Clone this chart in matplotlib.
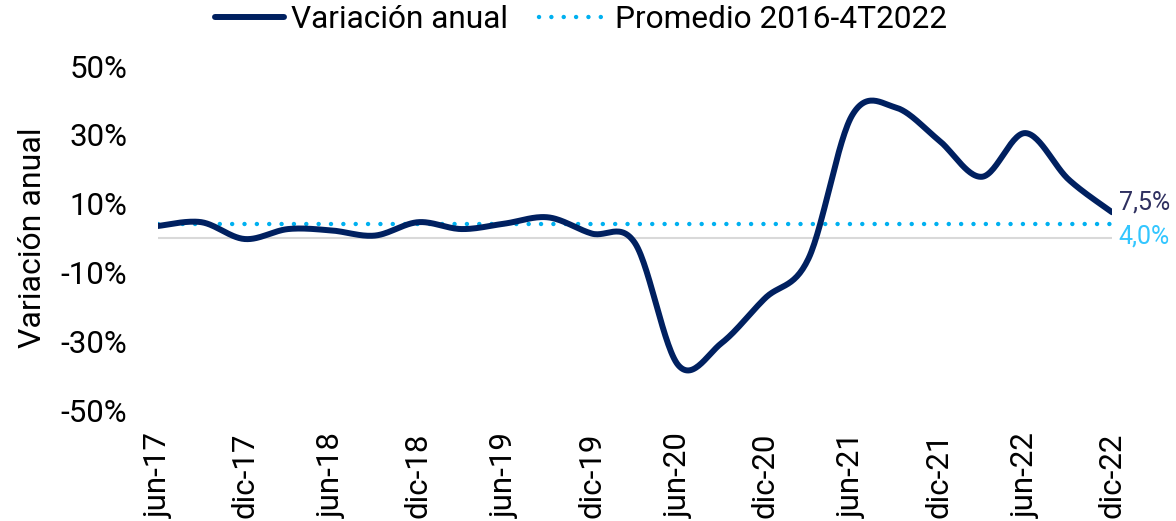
import numpy as np
import matplotlib
matplotlib.use('Agg')
import matplotlib.pyplot as plt

plt.rcParams['font.family'] = ['Roboto', 'DejaVu Sans']

# Quarterly data (Jun-17 .. Dic-22), annual variation in %
quarters = ['jun-17', 'sep-17', 'dic-17', 'mar-18', 'jun-18', 'sep-18', 'dic-18', 'mar-19',
            'jun-19', 'sep-19', 'dic-19', 'mar-20', 'jun-20', 'sep-20', 'dic-20', 'mar-21',
            'jun-21', 'sep-21', 'dic-21', 'mar-22', 'jun-22', 'sep-22', 'dic-22']
variacion = [3.5, 4.6, -0.3, 2.6, 2.2, 0.7, 4.6, 2.6,
             4.2, 6.0, 1.3, -1.5, -37.0, -30.5, -17.5, -6.0,
             35.5, 38.0, 28.5, 17.8, 30.5, 17.0, 7.5]
promedio = 4.0
tick_labels = quarters[::2]

navy = '#002060'
light_blue = '#00B0F0'


# Excel-like smoothed line (Bezier through every point)
def smooth(x, y, n=30):
    x = np.asarray(x, float)
    y = np.asarray(y, float)
    xs, ys = [], []
    for i in range(len(x) - 1):
        p0 = (x[i - 1], y[i - 1]) if i > 0 else (x[i], y[i])
        p1 = (x[i], y[i])
        p2 = (x[i + 1], y[i + 1])
        p3 = (x[i + 2], y[i + 2]) if i + 2 < len(x) else (x[i + 1], y[i + 1])
        c1 = (p1[0] + (p2[0] - p0[0]) / 6, p1[1] + (p2[1] - p0[1]) / 6)
        c2 = (p2[0] - (p3[0] - p1[0]) / 6, p2[1] - (p3[1] - p1[1]) / 6)
        t = np.linspace(0, 1, n, endpoint=(i == len(x) - 2))
        b = [(1 - t) ** 3, 3 * (1 - t) ** 2 * t, 3 * (1 - t) * t ** 2, t ** 3]
        xs.append(b[0] * p1[0] + b[1] * c1[0] + b[2] * c2[0] + b[3] * p2[0])
        ys.append(b[0] * p1[1] + b[1] * c1[1] + b[2] * c2[1] + b[3] * p2[1])
    return np.concatenate(xs), np.concatenate(ys)


x = np.arange(len(quarters))
sx, sy = smooth(x, variacion)

fig = plt.figure(figsize=(11.76, 5.21), dpi=100)
ax = fig.add_axes([158 / 1176, 1 - 410 / 521, (1112 - 158) / 1176, 344 / 521])

ax.axhline(0, color='#d9d9d9', linewidth=1.5, zorder=1)
ax.plot(x, [promedio] * len(x), color=light_blue, linewidth=3.2,
        linestyle=(0, (0.01, 2.77)), dash_capstyle='round', label='Promedio 2016-4T2022', zorder=2)
ax.plot(sx, sy, color=navy, linewidth=4.3, solid_capstyle='round', label='Variación anual', zorder=3)

ax.text(x[-1] + 0.15, variacion[-1] + 2.9, f'{variacion[-1]:.1f}%'.replace('.', ','),
        color='#2f3060', fontsize=18, ha='left', va='center')
ax.text(x[-1] + 0.15, promedio - 3.6, f'{promedio:.1f}%'.replace('.', ','),
        color='#33c6ff', fontsize=18, ha='left', va='center')

ax.set_xlim(x[0], x[-1])
ax.set_ylim(-50, 50)
ax.set_yticks(np.arange(-50, 51, 20))
ax.set_yticklabels([f'{v}%' for v in range(-50, 51, 20)])
ax.set_xticks(x[::2])
ax.set_xticklabels(tick_labels, rotation=90)
ax.tick_params(axis='both', length=0, labelsize=22.5)
ax.tick_params(axis='y', pad=22)
ax.tick_params(axis='x', pad=16)
for s in ax.spines.values():
    s.set_visible(False)

ax.set_ylabel('Variación anual', fontsize=23, labelpad=10)

handles, labels = ax.get_legend_handles_labels()
fig.legend(handles[::-1], labels[::-1], loc='center', bbox_to_anchor=(581 / 1176, 1 - 20 / 521),
           ncol=2, frameon=False, fontsize=22.8, handlelength=2.2, handletextpad=0.2,
           columnspacing=1.0)

fig.savefig('out.png', dpi=100)
